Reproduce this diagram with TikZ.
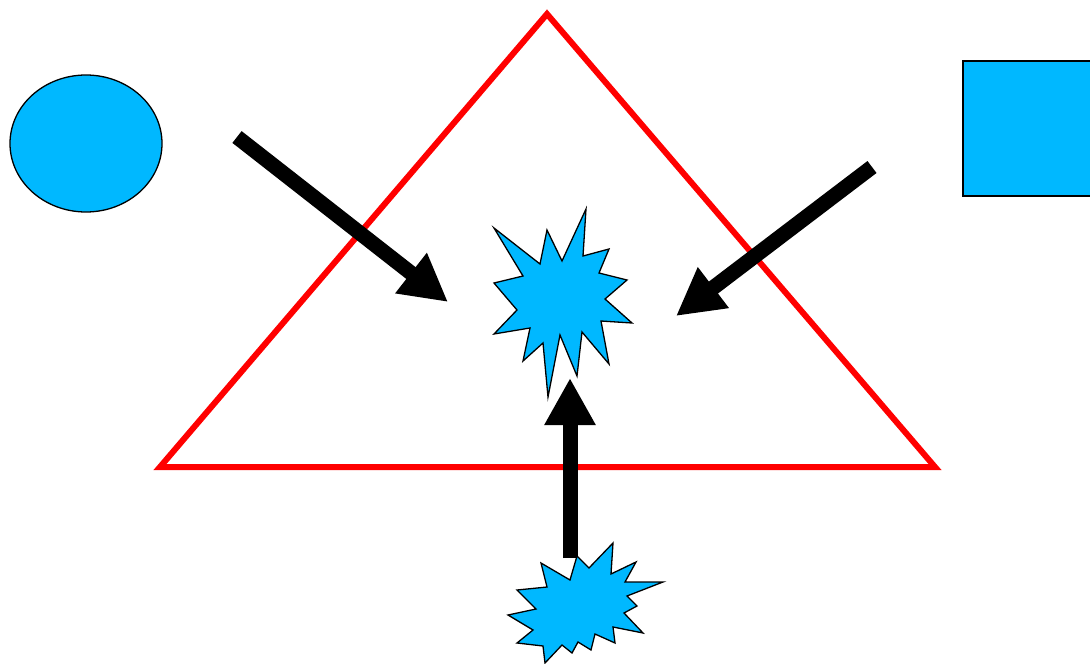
\documentclass[tikz,border=0pt]{standalone}
\usetikzlibrary{arrows.meta}
\definecolor{skyfill}{RGB}{0,184,255}
\tikzset{
  shapeout/.style={draw=black, line width=1.3pt, fill=skyfill, line join=miter},
  bigarrow/.style={line width=15pt, -{Triangle[length=47pt,width=48pt]}},
  redtri/.style={draw=red, line width=6pt, line join=miter}
}
\begin{document}
\begin{tikzpicture}[x=1pt,y=-1pt]
\useasboundingbox (0,0) rectangle (1090,664);
\clip (0,0) rectangle (1090,664);
% triangle
\draw[redtri] (547,14) -- (935,467) -- (160,467) -- cycle;
% ellipse and square
\draw[shapeout] (86,143.5) ellipse [x radius=76, y radius=68.5];
\draw[shapeout] (963,61) rectangle (1100,196);
% central starburst
\draw[shapeout] (494,228) -- (540,264) -- (547,230) -- (562,261) -- (586,209) -- (583,256) -- (609,249) -- (599,273) -- (627,280) -- (605,299) -- (632,323) -- (601,321) -- (609,364) -- (582,332) -- (577,376) -- (560,335) -- (548,397) -- (543,343) -- (523,361) -- (530,328) -- (494,334) -- (517,310) -- (494,283) -- (523,276) -- cycle;
% arrows
\coordinate (a1s) at (237,137);
\coordinate (a1e) at (448,302);
\coordinate (a2s) at (872,167);
\coordinate (a2e) at (676,316);
\coordinate (a3s) at (570,558);
\coordinate (a3e) at (570,378);
\draw[bigarrow] (a1s) -- (a1e);
\draw[bigarrow] (a2s) -- (a2e);
\draw[bigarrow] (a3s) -- (a3e);
% bottom starburst
\draw[shapeout] (570,580) -- (577,556) -- (589,568) -- (613,543) -- (611,574) -- (636,562) -- (625,582) -- (663,582) -- (627,596) -- (637,606) -- (624,613) -- (643,633) -- (613,627) -- (615,643) -- (595,634) -- (591,650) -- (578,642) -- (572,653) -- (562,645) -- (545,663) -- (543,646) -- (517,643) -- (533,630) -- (508,615) -- (536,609) -- (517,590) -- (547,587) -- (541,563) -- cycle;
\end{tikzpicture}
\end{document}
